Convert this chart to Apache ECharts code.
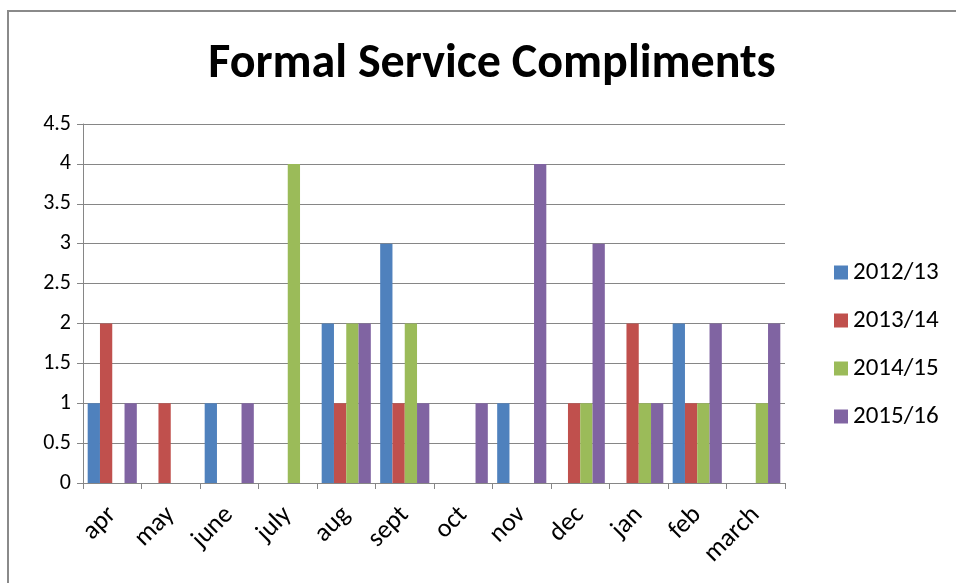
<!DOCTYPE html>
<html>
<head>
<meta charset="utf-8">
<script src="https://cdn.jsdelivr.net/npm/echarts@6/dist/echarts.min.js"></script>
<style>
  html, body { margin: 0; padding: 0; background: #fff; }
  #chart { width: 956px; height: 583px; }
</style>
</head>
<body>
<div id="chart"></div>
<script>
// Monthly formal service compliments per financial year
const months = ['apr', 'may', 'june', 'july', 'aug', 'sept', 'oct', 'nov', 'dec', 'jan', 'feb', 'march'];
const y2012 = [1, 0, 1, 0, 2, 3, 0, 1, 0, 0, 2, 0];
const y2013 = [2, 1, 0, 0, 1, 1, 0, 0, 1, 2, 1, 0];
const y2014 = [0, 0, 0, 4, 2, 2, 0, 0, 1, 1, 1, 1];
const y2015 = [1, 0, 1, 0, 2, 1, 1, 4, 3, 1, 2, 2];
const seriesNames = ['2012/13', '2013/14', '2014/15', '2015/16'];
const seriesData = [y2012, y2013, y2014, y2015];
const colors = ['#4F81BD', '#C0504D', '#9BBB59', '#8064A2'];

const font = 'Calibri, Carlito, "Open Sans", "Liberation Sans", sans-serif';

const chart = echarts.init(document.getElementById('chart'));
chart.setOption({
  animation: false,
  color: colors,
  title: {
    text: 'Formal Service Compliments',
    left: 487,
    textAlign: 'center',
    top: 36,
    textStyle: { fontFamily: font, fontSize: 48, fontWeight: 'bold', color: '#000' }
  },
  graphic: [{
    type: 'polyline',
    shape: { points: [[8, 583], [8, 11], [956, 11]] },
    style: { stroke: '#8a8a8a', lineWidth: 2, fill: null }
  }],
  legend: {
    orient: 'vertical',
    left: 829,
    top: 255,
    itemWidth: 14,
    itemHeight: 14,
    itemGap: 23,
    icon: 'rect',
    textStyle: { fontFamily: font, fontSize: 25, color: '#000', padding: [0, 0, 0, 0] },
    data: seriesNames
  },
  grid: { left: 83, right: 171, top: 124, bottom: 100, containLabel: false },
  xAxis: {
    type: 'category',
    data: months,
    axisLine: { lineStyle: { color: '#868686', width: 1 } },
    axisTick: { show: true, length: 6, lineStyle: { color: '#868686' } },
    axisLabel: { rotate: 45, fontFamily: font, fontSize: 26, color: '#000', margin: 28, interval: 0 }
  },
  yAxis: {
    type: 'value',
    min: 0,
    max: 4.5,
    interval: 0.5,
    axisLine: { show: true, lineStyle: { color: '#868686' } },
    axisTick: { show: true, length: 6, lineStyle: { color: '#868686' } },
    splitLine: { lineStyle: { color: '#868686', width: 1 } },
    axisLabel: { fontFamily: font, fontSize: 22, color: '#000', margin: 12 }
  },
  series: seriesNames.map((name, i) => ({
    name: name,
    type: 'bar',
    data: seriesData[i],
    barGap: '0%',
    barCategoryGap: '16%',
    itemStyle: { color: colors[i] }
  }))
});
</script>
</body>
</html>
